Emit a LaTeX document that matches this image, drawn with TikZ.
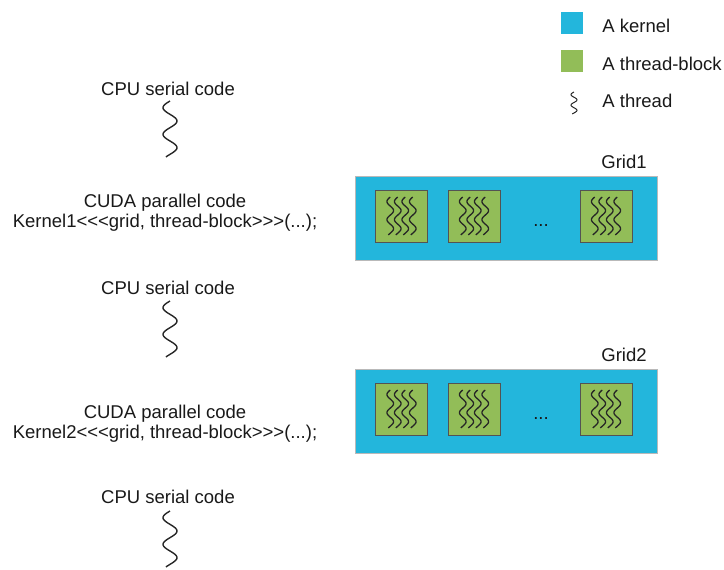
\documentclass[tikz,border=0pt]{standalone}
\usepackage{fontspec}
\setmainfont{Liberation Sans}
\definecolor{kernelblue}{RGB}{35,182,220}
\definecolor{blockgreen}{RGB}{146,189,88}
% x, top y, length, amplitude, periods
\newcommand{\wavy}[6][]{\draw[thread,#1] plot[domain=0:1,samples=60,smooth] ({#2-#5*sin(#6*360*\x)},{#3+#4*\x});}
\begin{document}
\begin{tikzpicture}[x=0.5pt,y=-0.5pt,
    txt/.style={inner sep=0pt,anchor=base,text=black!90,font=\fontsize{9.25}{11}\selectfont},
    kernel/.style={draw=gray!55,line width=0.5pt,fill=kernelblue,minimum width=151pt,minimum height=42pt,inner sep=0pt},
    tblock/.style={draw=gray!65!black,line width=0.5pt,fill=blockgreen,minimum size=26pt,inner sep=0pt},
    thread/.style={line width=0.7pt,black!85}]
    \useasboundingbox (0,0) rectangle (724,569);
    % legend
    \node[kernel,draw=none,minimum width=11pt,minimum height=11pt] (legk) at (572,23) {};
    \node[tblock,draw=none,minimum size=11pt] (legb) at (572,60.5) {};
    \coordinate (legt) at (574,92); \wavy[line width=0.5pt]{574}{92}{22}{3}{2.1}
    \node[txt,anchor=base west] (legktxt) at (602,32) {A kernel};
    \node[txt,anchor=base west] (legbtxt) at (602,70.5) {A thread-block};
    \node[txt,anchor=base west] (legttxt) at (602,107) {A thread};
    % host code
    \node[txt] (cpu1) at (168,95) {CPU serial code}; \wavy{170}{101}{56}{7}{2.1}
    \node[txt] (cuda1) at (165,207) {CUDA parallel code};
    \node[txt] (call1) at (165,227) {Kernel1{<}{<}{<}grid, thread-block{>}{>}{>}(...);};
    \node[txt] (cpu2) at (168,294) {CPU serial code}; \wavy{170}{301}{56}{7}{2.1}
    \node[txt] (cuda2) at (165,418) {CUDA parallel code};
    \node[txt] (call2) at (165,438) {Kernel2{<}{<}{<}grid, thread-block{>}{>}{>}(...);};
    \node[txt] (cpu3) at (168,503) {CPU serial code}; \wavy{170}{511}{56}{7}{2.1}
    % grids
    \foreach \g/\dy in {1/0,2/193} {
        \node[kernel] (grid\g) at (506,218+\dy) {};
        \node[txt,anchor=base east] (grid\g lbl) at (647,168+\dy) {Grid\g};
        \foreach \bx [count=\i] in {401.5,474,606} {
            \node[tblock] (g\g b\i) at (\bx,216+\dy) {};
            \foreach \tx in {-11.25,-3.75,3.75,11.25} {
                \wavy[line width=0.65pt]{\bx+\tx}{197+\dy}{38}{3.3}{2.1}
            }
        }
        \node[txt] (dots\g) at (541,226+\dy) {...};
    }
\end{tikzpicture}
\end{document}
